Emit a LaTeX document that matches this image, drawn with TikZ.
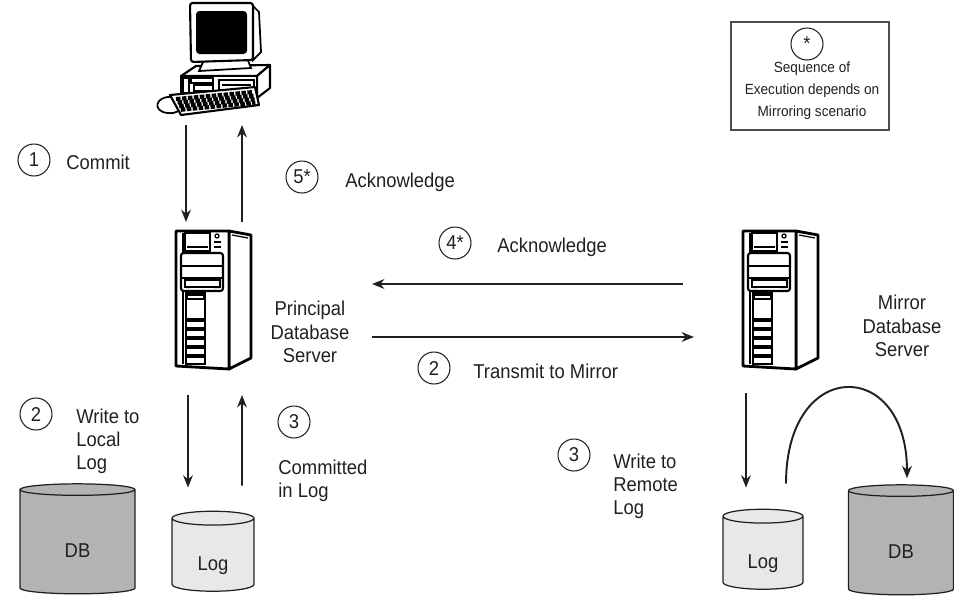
\documentclass[tikz,border=0pt]{standalone}
\usepackage{fontspec}
\setmainfont{Liberation Sans}[FakeStretch=0.92]
\usetikzlibrary{arrows.meta,shapes.geometric,calc}

\definecolor{dbgray}{HTML}{B3B3B3}
\definecolor{loggray}{HTML}{E8E8E8}
\definecolor{ink}{HTML}{231F20}

\tikzset{
  flow/.style={-{Stealth[length=7pt,width=5.5pt,inset=2.2pt]}, line width=1.1pt, draw=ink},
  num/.style={circle, draw=ink, line width=0.6pt, minimum size=0.64cm, inner sep=0pt, text=ink},
  lbl/.style={anchor=west, align=left, inner sep=0pt, text=ink},
  drum/.style={cylinder, shape border rotate=90, draw=ink, line width=0.7pt, aspect=0.45,
    cylinder uses custom fill, inner sep=0pt, text=ink, text height=0.6cm, text depth=0pt},
  % tower server, origin at the top left of the front panel
  pics/tower/.style={code={
    \draw[line width=1.6pt, fill=white, line join=round] (53,0) -- (75,4) -- (75,127) -- (53,138) -- cycle;
    \draw[line width=0.7pt] (56,4) -- (72,7);
    \draw[line width=1.6pt, fill=white, line join=round] (0,0) -- (53,0) -- (53,138) -- (0,135) -- cycle;
    \draw[line width=0.7pt] (7,2) -- (7,133);
    \draw[line width=0.8pt] (9,2) rectangle (34,20);
    \draw[line width=1pt] (11,16) -- (32,16);
    \draw[line width=0.7pt] (41,5) circle (2);
    \draw[line width=1.1pt] (38,11) -- (45,11) (38,16) -- (45,16);
    \draw[line width=1.2pt, fill=white, rounded corners=1.5] (5,22) rectangle (47,60);
    \draw[line width=0.8pt] (5,35) -- (47,35) (5,47) -- (47,47);
    \draw[line width=0.8pt] (9,49) rectangle (44,56);
    \fill (10,55) rectangle (14,57) (38,55) rectangle (43,57);
    \draw[line width=0.8pt] (10,62) rectangle (29,133);
    \draw[line width=0.6pt] (11,64) rectangle (28,68);
    \foreach \y in {87,96,105,114,123}
      \fill (10,\y) rectangle (29,\y+4);
    \coordinate (-n) at (37,0);
    \coordinate (-s) at (37,138);
    \coordinate (-w) at (0,69);
    \coordinate (-e) at (75,69);
  }},
  % desktop computer with keyboard
  pics/desktop/.style={code={
    % system unit
    \draw[line width=1.2pt, fill=white, line join=round] (181,76) -- (196,66) -- (270,65) -- (257,76) -- cycle;
    \draw[line width=1.2pt, fill=white, line join=round] (257,76) -- (270,65) -- (270,88) -- (257,98) -- cycle;
    \draw[line width=1.2pt, fill=white] (181,76) rectangle (257,98);
    \draw[line width=0.8pt] (183,78) rectangle (189,93);
    \draw[line width=0.8pt] (191,78) rectangle (213,83) (194,85) rectangle (213,91);
    \draw[line width=0.8pt] (219,80) rectangle (254,90);
    \draw[line width=0.6pt] (222,85) -- (251,85);
    % stand and monitor
    \draw[line width=1pt, fill=white] (204,60) -- (247,58) -- (251,68) -- (199,71) -- cycle;
    \draw[line width=1pt, fill=white] (253,6) -- (259,12) -- (261,52) -- (253,60) -- cycle;
    \draw[line width=1.2pt, fill=white, rounded corners=1.5] (190,3) -- (253,3) -- (253,60) -- (191,62) -- cycle;
    \fill[black, rounded corners=2] (196,11) rectangle (247,54);
    % keyboard and cord
    \draw[line width=1pt] (174,97) .. controls (154,95) and (152,112) .. (168,113)
      .. controls (176,114) and (182,110) .. (183,105);
    \draw[line width=1.2pt, fill=white, line join=round] (170,95) -- (255,87) -- (259,105) -- (181,115) -- cycle;
    \begin{scope}
      \clip (170,95) -- (255,87) -- (259,105) -- (181,115) -- cycle;
      \foreach \r in {0,1,2,3}
        \draw[line width=2.3pt, dash pattern=on 2.6pt off 0.8pt]
          ($(176,99)+(1.6*\r,3.6*\r)$) -- ($(253,92)+(0.8*\r,3.6*\r)$);
    \end{scope}
    \coordinate (-s) at (214,115);
  }}
}

\begin{document}
\begin{tikzpicture}[x=0.02cm, y=-0.02cm, font=\fontsize{11.4}{13.2}\selectfont]
\useasboundingbox (0,0) rectangle (954,600);

% machines
\pic (pc) at (0,0) {desktop};
\pic (prin) at (176,231) {tower};
\pic (mir) at (743,231) {tower};

\node[align=center, text=ink, inner sep=0pt] (prinlbl) at (310,332) {Principal\\Database\\Server};
\node[align=center, text=ink, inner sep=0pt] (mirlbl) at (902,326) {Mirror\\Database\\Server};

% storage
\node[drum, minimum width=2.3cm, minimum height=2.2cm, cylinder body fill=dbgray, cylinder end fill=dbgray] (dbL) at (77.5,542) {DB};
\node[drum, minimum width=1.64cm, minimum height=1.6cm, cylinder body fill=loggray, cylinder end fill=loggray] (logL) at (213,555) {Log};
\node[drum, minimum width=1.6cm, minimum height=1.6cm, cylinder body fill=loggray, cylinder end fill=loggray] (logR) at (763,553) {Log};
\node[drum, minimum width=2.1cm, minimum height=2.2cm, cylinder body fill=dbgray, cylinder end fill=dbgray] (dbR) at (901,543) {DB};

% legend
\node[draw=ink!80, line width=0.6pt, minimum width=3.16cm, minimum height=2.16cm] (legend) at (810,76) {};
\node[num] (nstar) at (807,44) {*};
\node[align=center, text=ink, inner sep=0pt, font=\fontsize{8.4}{12.5}\selectfont] (legtxt) at (812,91)
  {Sequence of\\Execution depends on\\Mirroring scenario};

% steps
\node[num] (n1) at (34,160) {1};
\node[lbl] (commit) at (66,162) {Commit};
\node[num] (n5) at (302,177) {5*};
\node[lbl] (ack5) at (345,182) {Acknowledge};
\node[num] (n4) at (455,243) {4*};
\node[lbl] (ack4) at (497,247) {Acknowledge};
\node[num] (n2t) at (434,368) {2};
\node[lbl] (transmit) at (473,371) {Transmit to Mirror};
\node[num] (n2w) at (36,414) {2};
\node[lbl] (wlocal) at (76,441) {Write to\\Local\\Log};
\node[num] (n3c) at (294,422) {3};
\node[lbl] (committed) at (278,481) {Committed\\in Log};
\node[num] (n3r) at (574,455) {3};
\node[lbl] (wremote) at (613,486) {Write to\\Remote\\Log};

% connectors
\draw[flow] ($(pc-s)+(-28,10)$) -- ($(prin-n)+(-27,-9)$);
\draw[flow] ($(prin-n)+(29,-9)$) -- ($(pc-s)+(28,10)$);
\draw[flow] ($(mir-w)+(-60,-16)$) -- ($(prin-e)+(121,-16)$);
\draw[flow] ($(prin-e)+(121,37)$) -- ($(mir-w)+(-49,37)$);
\draw[flow] ($(prin-s)+(-25,26)$) -- ($(logL.north)+(-25,-23)$);
\draw[flow] ($(logL.north)+(29,-25)$) -- ($(prin-s)+(29,26)$);
\draw[flow] ($(mir-s)+(-34,24)$) -- ($(logR.north)+(-17,-21)$);
\draw[flow] ($(logR.north)+(23,-25)$) .. controls +(0,-127) and +(0,-121) .. ($(dbR.north)+(6,-6)$);
\end{tikzpicture}
\end{document}
